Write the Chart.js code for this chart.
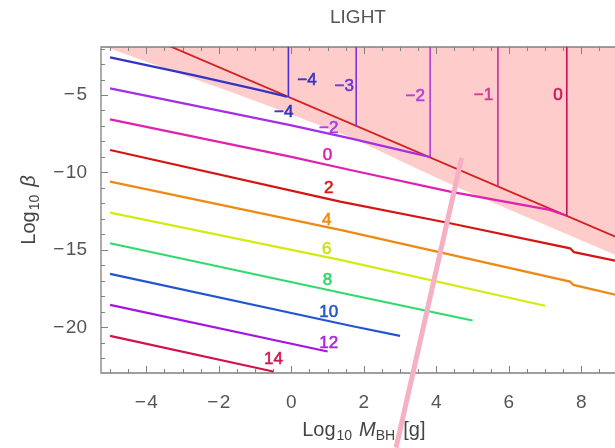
<!DOCTYPE html>
<html>
<head>
<meta charset="utf-8">
<script src="https://cdn.jsdelivr.net/npm/chart.js@4.4.1/dist/chart.umd.min.js"></script>
<style>
  html, body { margin: 0; padding: 0; background: #fff; }
  #wrap { width: 615px; height: 448px; }
</style>
</head>
<body>
<div id="wrap"><canvas id="myChart" width="615" height="448"></canvas></div>
<script>
// axis ranges and ticks (log10 M_BH on x, log10 beta on y)
const xRange = [-5.25, 8.93];
const yRange = [-22.95, -1.9];
const xTicks = [-4, -2, 0, 2, 4, 6, 8];
const yTicks = [-20, -15, -10, -5];
const xMinor = [-5, -4.5, -3.5, -3, -2.5, -1.5, -1, -0.5, 0.5, 1, 1.5, 2.5, 3, 3.5, 4.5, 5, 5.5, 6.5, 7, 7.5, 8.5];
const yMinor = [-22, -21, -19, -18, -17, -16, -14, -13, -12, -11, -9, -8, -7, -6, -4, -3, -2];

// contours below the excluded region, [log10 M, log10 beta]
const contourM4 = [[-5.0, -2.57], [-2.64, -3.75], [-0.81, -4.72], [-0.12, -5.1]];
const contourM2 = [[-5.0, -4.57], [-0.03, -6.94], [1.63, -7.8], [3.19, -8.66], [3.83, -9.0]];
const contour0 = [[-5.0, -6.57], [-0.03, -8.98], [1.63, -9.84], [4.38, -11.24], [7.13, -12.42], [7.6, -12.8]];
const contour2 = [[-5.0, -8.55], [1.35, -11.88], [4.38, -13.28], [7.69, -14.9], [7.8, -15.15], [9.3, -15.88]];
const contour4 = [[-5.0, -10.59], [1.35, -13.71], [7.69, -17.05], [7.78, -17.26], [9.3, -18.1]];
const contour6 = [[-5.0, -12.59], [1.35, -15.65], [7.0, -18.61]];
const contour8 = [[-5.0, -14.57], [1.63, -17.9], [5.0, -19.56]];
const contour10 = [[-5.0, -16.55], [1.63, -19.9], [3.0, -20.55]];
const contour12 = [[-5.0, -18.55], [1.0, -21.56]];
const contour14 = [[-5.0, -20.55], [-0.5, -22.85]];

// vertical contours inside the excluded region
const upperLevels = [-4, -3, -2, -1, 0];
const upperM = [-0.08, 1.79, 3.83, 5.7, 7.6];
const upperLow = [-5.13, -7.0, -9.0, -10.9, -12.8];

// red boundary line and lower edge of the shaded region
const boundary = [[-3.5, -1.7], [9.3, -14.5]];
const shadeEdge = [[-5.12, -1.9], [-3.28, -3.45], [-1.74, -4.74], [-0.25, -6.03], [1.71, -7.8], [3.0, -9.25], [4.57, -10.95], [8.93, -15.32], [9.3, -15.68]];

// pink pen stroke drawn over the figure
const penStroke = [[4.7, -9.06], [2.89, -27.77]];

// contour labels: text, x, y
const labelText = ['\u22124', '\u22124', '\u22123', '\u22122', '\u22121', '0', '\u22122', '0', '2', '4', '6', '8', '10', '12', '14'];
const labelM = [-0.21, 0.43, 1.46, 3.42, 5.3, 7.36, 1.03, 1.0, 1.03, 0.98, 0.98, 1.0, 1.03, 1.03, -0.49];
const labelBeta = [-6.12, -4.03, -4.46, -5.11, -5.0, -5.0, -7.15, -8.87, -11.02, -13.06, -14.96, -16.94, -19.05, -21.02, -22.05];
const labelColor = ['#3a33c4', '#3a33c4', '#6a3ad8', '#b040d8', '#d03c9a', '#c81858', '#a840e0', '#e020b0', '#e01818', '#f08c10', '#c8e020', '#30d870', '#2a56d0', '#a828e0', '#d01850'];

const upperColors = ['#4b2fcf', '#7a35d9', '#b13bdb', '#cc2e9e', '#c81058'];
const FONT = '"Liberation Sans", Arial, sans-serif';

const pts = arr => arr.map(p => ({ x: p[0], y: p[1] }));
const line = (arr, color, w) => ({
  data: pts(arr), borderColor: color, borderWidth: w || 2.2, pointRadius: 0, fill: false, tension: 0
});

let datasets = [];
datasets.push({
  data: pts(shadeEdge), borderWidth: 0, borderColor: 'rgba(0,0,0,0)', pointRadius: 0,
  fill: 'end', backgroundColor: 'rgb(255,204,204)', order: 100
});
datasets.push(Object.assign(line(boundary, '#d42020', 1.8), { order: 50 }));
upperLevels.forEach((lev, i) => {
  datasets.push(line([[upperM[i], upperLow[i]], [upperM[i], 0]], upperColors[i], 1.6));
});
datasets.push(line(contourM4, '#3333c4'));
datasets.push(line(contourM2, '#a52fe6'));
datasets.push(line(contour0, '#e021b0'));
datasets.push(line(contour2, '#d61414'));
datasets.push(line(contour4, '#ee8a12'));
datasets.push(line(contour6, '#d2ec12'));
datasets.push(line(contour8, '#2fdb6e'));
datasets.push(line(contour10, '#2256d0'));
datasets.push(line(contour12, '#a514e4'));
datasets.push(line(contour14, '#d4124a'));
datasets.push(Object.assign(line(penStroke, 'rgb(246,176,196)', 5), { clip: false, order: -1 }));

function drawRich(ctx, parts, x, y) {
  let w = 0;
  parts.forEach(p => { ctx.font = p.font; w += ctx.measureText(p.text).width + (p.gap || 0); });
  let cx = x - w / 2;
  parts.forEach(p => {
    ctx.font = p.font;
    ctx.fillText(p.text, cx, y + (p.dy || 0));
    cx += ctx.measureText(p.text).width + (p.gap || 0);
  });
}

const framePlugin = {
  id: 'frame',
  beforeDatasetsDraw(chart) {
    const ctx = chart.ctx;
    const xs = chart.scales.x;
    ctx.save();
    ctx.fillStyle = '#444';
    ctx.textAlign = 'left';
    ctx.textBaseline = 'alphabetic';
    drawRich(ctx, [
      { text: 'Log', font: '20px ' + FONT, gap: 1 },
      { text: '10', font: '14px ' + FONT, dy: 4, gap: 7 },
      { text: 'M', font: 'italic 20px ' + FONT },
      { text: 'BH', font: '14px ' + FONT, dy: 4, gap: 8 },
      { text: '[g]', font: '20px ' + FONT }
    ], xs.getPixelForValue(2), 436);
    ctx.translate(35, (chart.chartArea.top + chart.chartArea.bottom) / 2);
    ctx.rotate(-Math.PI / 2);
    drawRich(ctx, [
      { text: 'Log', font: '20px ' + FONT, gap: 1 },
      { text: '10', font: '14px ' + FONT, dy: 4, gap: 8 },
      { text: '\u03b2', font: 'italic 20px ' + FONT }
    ], 0, 0);
    ctx.restore();
  },
  afterDatasetDraw(chart, args) {
    if (args.index !== 0) return;
    const ctx = chart.ctx;
    const a = chart.chartArea;
    const xs = chart.scales.x, ys = chart.scales.y;
    ctx.save();
    ctx.strokeStyle = '#808080';
    ctx.lineWidth = 1.3;
    ctx.beginPath();
    ctx.moveTo(chart.width + 5, a.top);
    ctx.lineTo(a.left, a.top);
    ctx.lineTo(a.left, a.bottom);
    ctx.lineTo(chart.width + 5, a.bottom);
    ctx.stroke();
    ctx.lineWidth = 1;
    ctx.beginPath();
    const tx = (v, len) => {
      const p = Math.round(xs.getPixelForValue(v)) + 0.5;
      ctx.moveTo(p, a.bottom); ctx.lineTo(p, a.bottom - len);
      ctx.moveTo(p, a.top); ctx.lineTo(p, a.top + len);
    };
    const ty = (v, len) => {
      const p = Math.round(ys.getPixelForValue(v)) + 0.5;
      ctx.moveTo(a.left, p); ctx.lineTo(a.left + len, p);
    };
    xTicks.forEach(v => tx(v, 7));
    xMinor.forEach(v => tx(v, 4));
    yTicks.forEach(v => ty(v, 7));
    yMinor.forEach(v => ty(v, 4));
    ctx.stroke();
    ctx.restore();
  },
  afterDatasetsDraw(chart) {
    const ctx = chart.ctx;
    const xs = chart.scales.x, ys = chart.scales.y;
    ctx.save();
    ctx.font = '17px ' + FONT;
    ctx.textAlign = 'center';
    ctx.textBaseline = 'middle';
    ctx.lineWidth = 0.6;
    labelText.forEach((t, i) => {
      const px = xs.getPixelForValue(labelM[i]), py = ys.getPixelForValue(labelBeta[i]);
      ctx.fillStyle = labelColor[i];
      ctx.strokeStyle = labelColor[i];
      ctx.fillText(t, px, py);
      ctx.strokeText(t, px, py);
    });
    ctx.restore();
  }
};

const fmt = v => (v < 0 ? '\u2212\u200a' + Math.abs(v) : '' + v);

let ctx = document.getElementById('myChart').getContext('2d');
let chart = new Chart(ctx, {
  type: 'line',
  data: { datasets: datasets },
  options: {
    responsive: false,
    animation: false,
    devicePixelRatio: 1,
    layout: { padding: 0 },
    plugins: {
      legend: { display: false },
      tooltip: { enabled: false },
      title: {
        display: true,
        text: 'LIGHT',
        fullSize: false,
        color: '#555',
        font: { family: FONT, size: 19, weight: 'normal' },
        padding: { top: 6, bottom: 18.2 }
      }
    },
    scales: {
      x: {
        type: 'linear',
        min: xRange[0],
        max: xRange[1],
        grid: { display: false },
        border: { display: false },
        ticks: { color: '#555', font: { family: FONT, size: 19 }, padding: 10, callback: fmt },
        afterBuildTicks: s => { s.ticks = xTicks.map(v => ({ value: v })); },
        afterFit: s => { s.height = 75; }
      },
      y: {
        type: 'linear',
        min: yRange[0],
        max: yRange[1],
        grid: { display: false },
        border: { display: false },
        ticks: { color: '#555', font: { family: FONT, size: 19 }, padding: 6, callback: fmt },
        afterBuildTicks: s => { s.ticks = yTicks.map(v => ({ value: v })); },
        afterFit: s => { s.width = 101; }
      }
    }
  },
  plugins: [framePlugin]
});
</script>
</body>
</html>
